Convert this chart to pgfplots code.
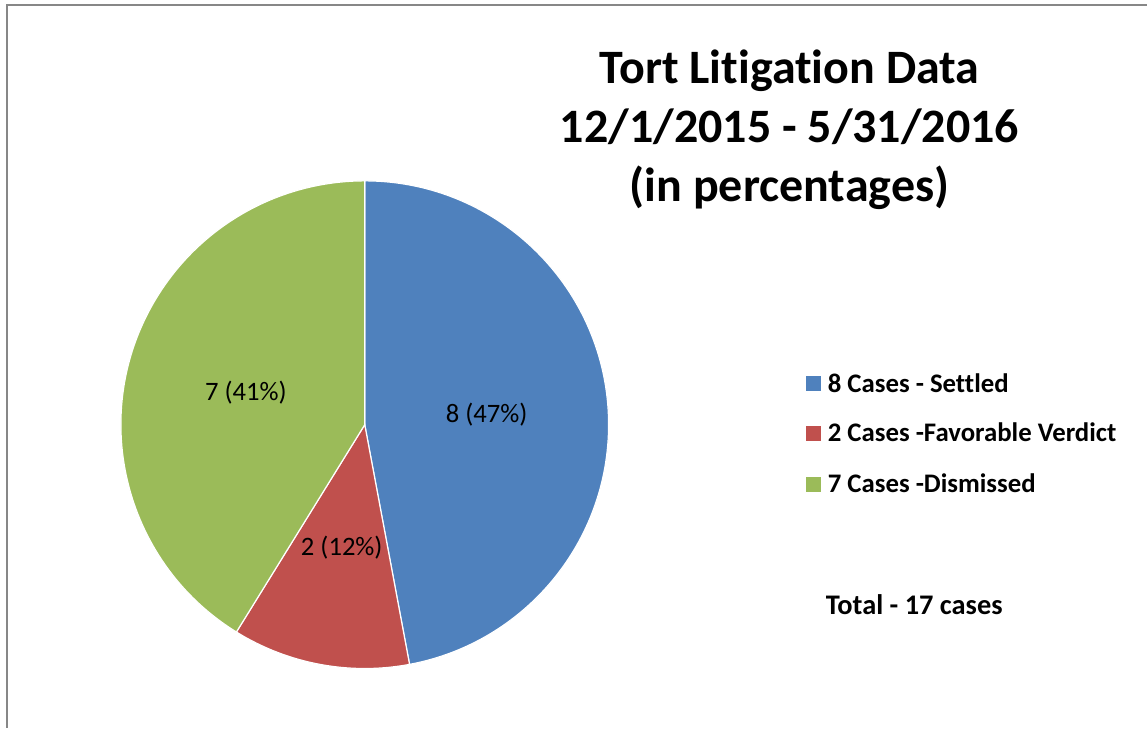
\documentclass[border=0pt]{standalone}
\usepackage{pgfplots}
\pgfplotsset{compat=1.18}
\usepackage{fontspec}
\setmainfont{Carlito}[RawFeature={-liga}]
\definecolor{cA}{HTML}{4F81BD}
\definecolor{cB}{HTML}{C0504D}
\definecolor{cC}{HTML}{9BBB59}
\definecolor{frame}{HTML}{878787}
% data: cases per outcome
\def\vA{8}\def\vB{2}\def\vC{7}
\pgfmathsetmacro\tot{\vA+\vB+\vC}
\pgfmathsetmacro\aA{90}
\pgfmathsetmacro\aB{90-\vA/\tot*360}
\pgfmathsetmacro\aC{\aB-\vB/\tot*360}
\pgfmathsetmacro\aD{\aC-\vC/\tot*360}
\begin{document}
\begin{tikzpicture}
\begin{axis}[scale only axis, width=574pt, height=364pt,
  xmin=0, xmax=1148, ymin=0, ymax=728, hide axis, clip=false]
\path (axis cs:0,0) rectangle (axis cs:1148,728);
\draw[frame, line width=0.8pt] (axis cs:7,0) -- (axis cs:7,723) -- (axis cs:1148,723);
% pie
\filldraw[fill=cA, draw=white, line width=0.6pt] (axis cs:365,303) -- +(\aA:122pt) arc[start angle=\aA, end angle=\aB, radius=122pt] -- cycle;
\filldraw[fill=cB, draw=white, line width=0.6pt] (axis cs:365,303) -- +(\aB:122pt) arc[start angle=\aB, end angle=\aC, radius=122pt] -- cycle;
\filldraw[fill=cC, draw=white, line width=0.6pt] (axis cs:365,303) -- +(\aC:122pt) arc[start angle=\aC, end angle=\aD, radius=122pt] -- cycle;
\node[font=\fontsize{13.3pt}{15pt}\selectfont] at (axis cs:487,313) {8 (47\%)};
\node[font=\fontsize{13.3pt}{15pt}\selectfont] at (axis cs:342,180) {2 (12\%)};
\node[font=\fontsize{13.3pt}{15pt}\selectfont] at (axis cs:246,335) {7 (41\%)};
% title
\node[align=center, font=\fontsize{24pt}{29.5pt}\selectfont\bfseries] at (axis cs:790,598) {Tort Litigation Data\\12/1/2015 - 5/31/2016\\(in percentages)};
% legend
\fill[cA] (axis cs:807,337) rectangle (axis cs:822,352);
\fill[cB] (axis cs:807,287) rectangle (axis cs:822,302);
\fill[cC] (axis cs:807,236) rectangle (axis cs:822,251);
\node[anchor=west, inner sep=0pt, font=\fontsize{13.4pt}{15pt}\selectfont\bfseries] at (axis cs:828,345) {8 Cases - Settled};
\node[anchor=west, inner sep=0pt, font=\fontsize{13.4pt}{15pt}\selectfont\bfseries] at (axis cs:828,295) {2 Cases -Favorable Verdict};
\node[anchor=west, inner sep=0pt, font=\fontsize{13.4pt}{15pt}\selectfont\bfseries] at (axis cs:828,244) {7 Cases -Dismissed};
\node[anchor=west, inner sep=0pt, font=\fontsize{14.2pt}{15pt}\selectfont\bfseries] at (axis cs:826,123) {Total - 17 cases};
\end{axis}
\end{tikzpicture}
\end{document}
